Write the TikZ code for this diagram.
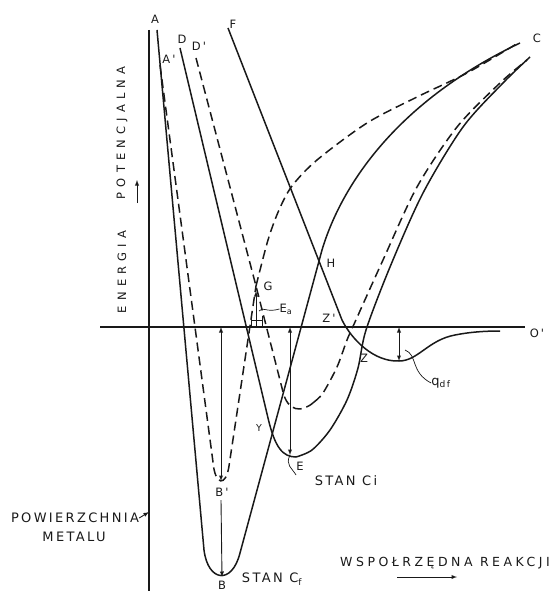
\documentclass[tikz,border=0pt]{standalone}
\usepackage{fontspec}
\usepackage{tikz}
\usetikzlibrary{arrows}
\newfontfamily\hand{DejaVu Sans}[LetterSpace=18]
\newfontfamily\handwide{DejaVu Sans}[LetterSpace=28]
\newfontfamily\handvert{DejaVu Sans}[LetterSpace=45]
\definecolor{ink}{RGB}{25,25,25}
\tikzstyle{curve}  = [draw=ink, line width=1.5pt, line join=round]
\tikzstyle{dcurve} = [curve, dash pattern=on 9pt off 5pt]
\tikzstyle{dim}    = [draw=ink, line width=0.9pt]
\tikzstyle{lbl}    = [text=ink, inner sep=0pt, font=\hand\fontsize{13}{14}\selectfont]
\tikzstyle{tag}    = [text=ink, inner sep=0pt, font=\hand\fontsize{11.5}{12}\selectfont]
\tikzstyle{vlbl}   = [text=ink, inner sep=0pt, rotate=90, font=\handvert\fontsize{11.5}{12}\selectfont]

\begin{document}
\begin{tikzpicture}[x=1pt, y=-1pt, >=latex]
  \useasboundingbox (0,0) rectangle (552,591);

  \coordinate (A)  at (157,30);
  \coordinate (Ap) at (160,65);
  \coordinate (B)  at (222,577);
  \coordinate (Bp) at (221,481);
  \coordinate (C)  at (520,43);
  \coordinate (D)  at (180,48);
  \coordinate (Dp) at (196,58);
  \coordinate (E)  at (290,455);
  \coordinate (F)  at (228,28);
  \coordinate (G)  at (256,286);
  \coordinate (Q)  at (399,361);
  \coordinate (O0) at (100,327);
  \coordinate (O1) at (525,327);
  \coordinate (M0) at (149,30);
  \coordinate (M1) at (149,591);

  \draw[curve, line width=2pt] (M0) -- (M1);
  \draw[curve, line width=2.8pt] (O0) -- (O1);

  \draw[curve] (A) -- (204,550) .. controls (208,582) and (232,585) .. (240,553)
    -- (322,250) .. controls (340,190) and (392,104) .. (C);
  \draw[curve] (D) -- (268,418) .. controls (275,448) and (283,457) .. (296,457)
    plot[smooth] coordinates {(296,457) (312,450) (330,430) (347,400) (358,368)
    (366,330) (390,267) (423,193) (463,127) (503,83) (530,57)};
  \draw[curve] (F) -- (342,320) .. controls (352,340) and (374,362) .. (Q)
    .. controls (418,361) and (428,340) .. (455,335) .. controls (470,332) and (485,331) .. (500,331);

  \draw[dcurve] (Ap) -- (213,462) .. controls (215,486) and (226,487) .. (229,466) -- (G)
    plot[smooth] coordinates {(G) (268,240) (279,210) (292,186) (317,160) (367,123)
    (417,97) (467,73) (518,43)};
  \draw[dcurve] (Dp) -- (G) -- (283,392) .. controls (288,412) and (302,413) .. (314,402)
    plot[smooth] coordinates {(314,402) (323,393) (337,367) (347,340) (355,322)
    (383,260) (417,187) (457,127) (500,83) (527,60)};

  \draw[dim, <->] (Bp |- O0) -- (Bp);
  \draw[dim, ->] (221,500) -- (B);
  \draw[dim, <->] (E |- O0) -- (E);
  \draw[dim, ->] (G |- O0) -- (256,291);
  \draw[dim, line width=0.7pt] (251,316) -- (251,326) (262,316) -- (262,326) (251,320) -- (262,320);
  \draw[dim, <->] (Q |- O0) -- (Q);

  \node[tag] (lA)  at (155,19) {A};
  \node[tag] (lAp) at (169,59) {A'};
  \node[tag] (lD)  at (182,39) {D};
  \node[tag] (lDp) at (199,46) {D'};
  \node[tag] (lF)  at (233,24) {F};
  \node[tag] (lC)  at (537,38) {C};
  \node[tag] (lH)  at (331,263) {H};
  \node[tag] (lG)  at (268,286) {G};
  \node[tag] (lEa) at (286,309) {E\textsubscript{a}};
  \node[tag] (lZp) at (329,318) {Z'};
  \node[tag] (lZ)  at (364,358) {Z};
  \node[tag] (lO)  at (537,333) {O'};
  \node[tag] (lY)  at (259,428) {\fontsize{9.5}{9.5}\selectfont Y};
  \node[tag] (lBp) at (222,492) {B'};
  \node[tag] (lB)  at (222,585) {B};
  \node[tag] (lE)  at (300,466) {E};
  \node[lbl] (lq)  at (441,383) {q\textsubscript{df}};

  \draw[dim, line width=0.7pt] (259,311) .. controls (263,306) and (266,313) .. (lEa.west);
  \draw[dim, line width=0.7pt] (E) .. controls (285,465) and (292,468) .. (296,475);
  \draw[dim, line width=0.7pt] (405,350) .. controls (418,355) and (410,372) .. (lq.west);

  \node[lbl] (ci) at (346,481) {STAN Ci};
  \node[lbl] (cf) at (272,579) {STAN C\textsubscript{f}};
  \node[lbl] (pw) at (75,518) {POWIERZCHNIA};
  \node[lbl] (mt) at (74,537) {METALU};
  \node[lbl, font=\handwide\fontsize{12.5}{13}\selectfont] (wr) at (445,563) {WSPOŁRZĘDNA REAKCJI};
  \node[vlbl] (en) at (122,272) {ENERGIA};
  \node[vlbl] (pt) at (122,133) {POTENCJALNA};

  \draw[dim, ->] (pw.east) -- (M0 |- 512,512);
  \draw[dim, ->] (137,203) -- (137,180);
  \draw[dim, ->] (397,577) -- (457,577);

\end{tikzpicture}
\end{document}
